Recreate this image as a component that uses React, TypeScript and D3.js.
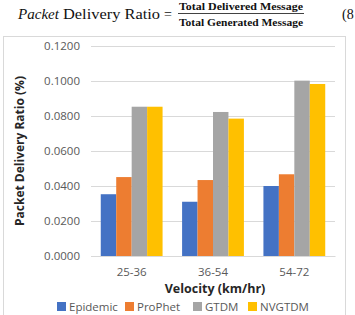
import React, { useEffect, useRef } from "react";
import * as d3 from "d3";

const categories = ["25-36", "36-54", "54-72"];
const seriesNames = ["Epidemic", "ProPhet", "GTDM", "NVGTDM"];
const epidemic = [0.0353, 0.031, 0.04];
const prophet = [0.0451, 0.0434, 0.0467];
const gtdm = [0.0853, 0.0823, 0.1002];
const nvgtdm = [0.0853, 0.0785, 0.0983];
const yTicks = [0, 0.02, 0.04, 0.06, 0.08, 0.1, 0.12];
const colors = ["#4472C4", "#ED7D31", "#A5A5A5", "#FFC000"];

const App = () => {
  const ref = useRef<SVGSVGElement>(null);

  useEffect(() => {
    const svg = d3.select(ref.current);
    svg.selectAll("*").remove();
    const width = 355;
    const height = 315;
    const left = 91;
    const right = 335;
    const top = 46;
    const bottom = 256;
    const font = "'Open Sans', sans-serif";

    // equation above the chart
    const eq = svg.append("g").attr("font-family", "'Liberation Serif', serif").attr("fill", "#111");
    eq.append("text").attr("x", 18).attr("y", 19).attr("font-size", 14)
      .attr("font-style", "italic").attr("textLength", 41).attr("lengthAdjust", "spacingAndGlyphs").text("Packet");
    eq.append("text").attr("x", 63).attr("y", 19).attr("font-size", 14)
      .attr("textLength", 97).attr("lengthAdjust", "spacingAndGlyphs").text("Delivery Ratio");
    eq.append("text").attr("x", 164).attr("y", 19).attr("font-size", 14).text("=");
    eq.append("text").attr("x", 179).attr("y", 10).attr("font-size", 9.5).attr("font-weight", "bold")
      .attr("textLength", 124).attr("lengthAdjust", "spacingAndGlyphs").text("Total Delivered Message");
    eq.append("line").attr("x1", 178).attr("x2", 304).attr("y1", 13.5).attr("y2", 13.5)
      .attr("stroke", "#111").attr("stroke-width", 0.8);
    eq.append("text").attr("x", 179).attr("y", 26).attr("font-size", 9.5).attr("font-weight", "bold")
      .attr("textLength", 124).attr("lengthAdjust", "spacingAndGlyphs").text("Total Generated Message");
    eq.append("text").attr("x", 342).attr("y", 19).attr("font-size", 14).text("(8");

    // chart frame
    svg.append("rect").attr("x", 3.5).attr("y", 36.5).attr("width", 342).attr("height", 300)
      .attr("fill", "#fff").attr("stroke", "#D9D9D9");

    const x0 = d3.scaleBand().domain(categories).range([left, right]).paddingInner(0.24).paddingOuter(0.12);
    const x1 = d3.scaleBand().domain(seriesNames).range([0, x0.bandwidth()]);
    const y = d3.scaleLinear().domain([0, 0.12]).range([bottom, top]);

    const yAxis = svg.append("g").attr("transform", `translate(${left},0)`)
      .call(d3.axisLeft(y).tickValues(yTicks).tickSize(-(right - left)).tickPadding(11).tickFormat(d3.format(".4f")));
    yAxis.select(".domain").remove();
    yAxis.selectAll(".tick line").attr("stroke", "#D9D9D9");
    yAxis.selectAll(".tick text").attr("fill", "#595959").attr("font-size", 11.5).attr("font-family", font);

    const data = [epidemic, prophet, gtdm, nvgtdm];
    const groups = svg.append("g").selectAll("g").data(categories).join("g")
      .attr("transform", (d) => `translate(${x0(d)},0)`);
    groups.selectAll("rect")
      .data((d, i) => seriesNames.map((s, j) => ({ s, v: data[j][i], c: colors[j] })))
      .join("rect")
      .attr("x", (d) => x1(d.s)!)
      .attr("width", x1.bandwidth())
      .attr("y", (d) => y(d.v))
      .attr("height", (d) => bottom - y(d.v))
      .attr("fill", (d) => d.c);

    const xAxis = svg.append("g").attr("transform", `translate(0,${bottom})`)
      .call(d3.axisBottom(x0).tickSize(0).tickPadding(12));
    xAxis.select(".domain").attr("stroke", "#D9D9D9");
    xAxis.selectAll(".tick text").attr("fill", "#595959").attr("font-size", 11.5).attr("font-family", font);

    svg.append("text").attr("x", 215).attr("y", 293).attr("text-anchor", "middle")
      .attr("font-family", font).attr("font-weight", "bold").attr("font-size", 12.5).attr("fill", "#262626")
      .text("Velocity (km/hr)");
    svg.append("text").attr("transform", `translate(24,${(top + bottom) / 2}) rotate(-90)`)
      .attr("text-anchor", "middle").attr("font-family", font).attr("font-weight", "bold")
      .attr("font-size", 12).attr("fill", "#262626").text("Packet Delivery Ratio (%)");

    // legend
    const legendX = [57, 125, 193, 248];
    const legend = svg.append("g").selectAll("g").data(seriesNames).join("g")
      .attr("transform", (d, i) => `translate(${legendX[i]},302)`);
    legend.append("rect").attr("width", 9).attr("height", 9).attr("fill", (d, i) => colors[i]);
    legend.append("text").attr("x", 12).attr("y", 8.5).attr("font-family", font).attr("font-size", 11.5)
      .attr("fill", "#595959").text((d) => d);

    svg.attr("width", width).attr("height", height);
  }, []);

  return <svg ref={ref} style={{ position: "absolute", left: 0, top: 0, background: "#fff" }} />;
};

export default App;
